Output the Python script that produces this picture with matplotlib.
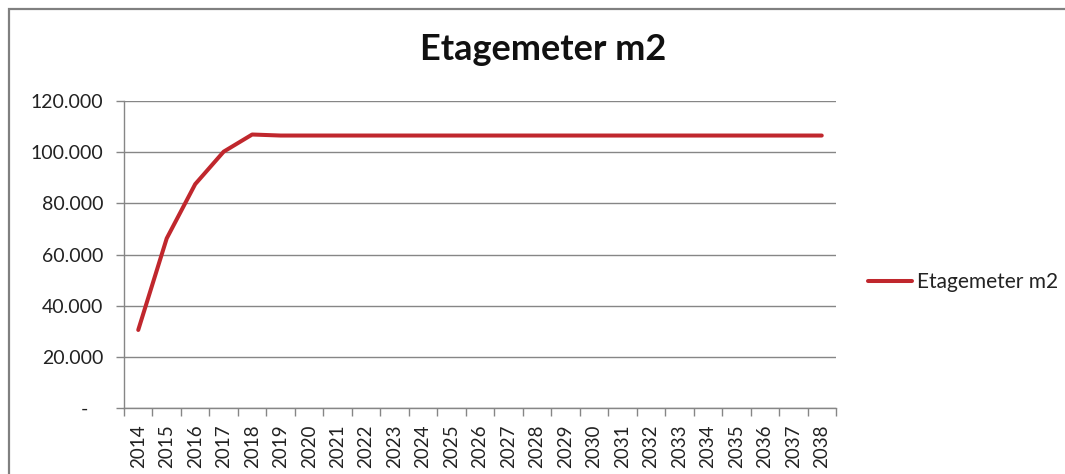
import matplotlib
matplotlib.use("Agg")
import matplotlib.pyplot as plt
from matplotlib.patches import Rectangle
from matplotlib.ticker import FixedLocator, FuncFormatter

years = [str(y) for y in range(2014, 2039)]
values = [30500, 66300, 87500, 100200, 106900, 106500, 106500, 106500, 106500, 106500,
          106500, 106500, 106500, 106500, 106500, 106500, 106500, 106500, 106500, 106500,
          106500, 106500, 106500, 106500, 106500]
yticks = [0, 20000, 40000, 60000, 80000, 100000, 120000]
title = "Etagemeter m2"
series_name = "Etagemeter m2"

plt.rcParams['font.family'] = ['Lato', 'DejaVu Sans']

W, H = 1065, 474
fig = plt.figure(figsize=(W / 100, H / 100), dpi=100)
fig.patch.set_facecolor('white')

# chart border
fig.patches.append(Rectangle((9 / W, -0.1), 1.2, (H - 9) / H + 0.1, transform=fig.transFigure,
                             fill=False, edgecolor='#808080', linewidth=1.6))

ax = fig.add_axes([124 / W, 1 - 408 / H, (836 - 124) / W, (408 - 101) / H])
x = list(range(len(years)))
ax.plot(x, values, color='#C0272D', linewidth=2.9, solid_capstyle='round',
        solid_joinstyle='round', label=series_name)

ax.set_xlim(-0.5, len(years) - 0.5)
ax.set_ylim(0, 120000)
ax.set_yticks(yticks)

def yfmt(v, pos):
    if v == 0:
        return '-   '
    return f"{int(v):,}".replace(',', '.')

ax.yaxis.set_major_formatter(FuncFormatter(yfmt))
ax.yaxis.grid(True, color='#868686', linewidth=1.0)
ax.set_axisbelow(True)

ax.set_xticks(x)
ax.set_xticklabels(years, rotation=90, fontsize=13.5, color='#222222')
ax.xaxis.set_minor_locator(FixedLocator([i - 0.5 for i in range(len(years) + 1)]))
ax.tick_params(axis='x', which='major', length=0, pad=12)
ax.tick_params(axis='x', which='minor', length=6, color='#868686', width=1.0)
ax.tick_params(axis='y', length=6, color='#868686', width=1.0, labelsize=14, labelcolor='#222222', pad=9)

for s in ['top', 'right']:
    ax.spines[s].set_visible(False)
for s in ['left', 'bottom']:
    ax.spines[s].set_color('#868686')
    ax.spines[s].set_linewidth(1.0)

fig.text(543 / W, 1 - 50 / H, title, ha='center', va='center', fontsize=26, fontweight='bold', color='#111111')

leg = ax.legend(loc='center left', bbox_to_anchor=((868 - 124) / (836 - 124), (408 - 282) / (408 - 101)),
                frameon=False, fontsize=15, handlelength=2.1, handletextpad=0.25, borderaxespad=0, borderpad=0)
for t in leg.get_texts():
    t.set_color('#222222')

fig.savefig('out.png', dpi=100)
